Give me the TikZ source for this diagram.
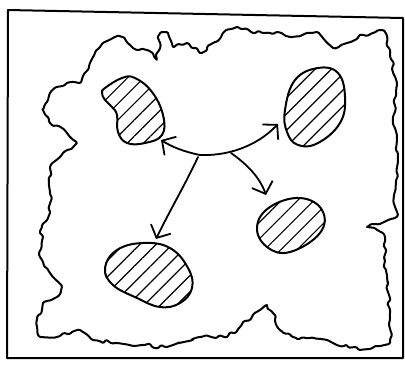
\documentclass[tikz,border=0pt]{standalone}
\usepackage{tikz}
\usetikzlibrary{arrows.meta,
                decorations.pathmorphing}
\usetikzlibrary{patterns.meta}

\begin{document}
\begin{tikzpicture}[x=1pt,y=-1pt,line join=round,line cap=round,
    pen/.style={line width=2pt},
    blob/.style={pen,pattern={Lines[angle=45,distance=11.5pt,line width=1.2pt]}},
    arr/.style={line width=1.8pt,-{Straight Barb[length=10pt,width=22pt,line width=1.8pt]}},
    fuzzy/.style={pen,decorate,decoration={random steps,segment length=4.5pt,amplitude=2.2pt},rounded corners=1.2pt}]
    \useasboundingbox (0,0) rectangle (405,368);
    \pgfmathsetseed{7}

    % frame
    \draw[pen] (8,10) -- (403,18) -- (403,358) -- (7,358) -- cycle;

    % region
    \draw[fuzzy] (43,110) -- (50,93) -- (67,83) -- (80,83) -- (90,63) -- (100,47)
        -- (113,38) -- (123,37) -- (133,48) -- (147,50) -- (157,60) -- (160,33)
        -- (167,32) -- (173,47) -- (187,43) -- (200,53) -- (213,43) -- (223,33)
        -- (237,27) -- (253,33) -- (263,33) -- (277,32) -- (290,37) -- (307,33)
        -- (317,32) -- (333,48) -- (347,43) -- (360,35) -- (373,33) -- (383,30)
        -- (390,50) -- (397,83) -- (393,117) -- (398,160) -- (394,195) -- (398,215)
        -- (367,227) -- (383,233) -- (386,270) -- (390,310) -- (390,343)
        -- (360,350) -- (327,340) -- (293,337) -- (280,330) -- (273,313)
        -- (267,305) -- (260,310) -- (240,327) -- (227,337) -- (200,337)
        -- (167,347) -- (143,345) -- (117,343) -- (93,340) -- (80,330)
        -- (57,337) -- (40,337) -- (37,327) -- (43,303) -- (57,297) -- (62,287)
        -- (50,273) -- (40,257) -- (43,237) -- (40,233) -- (50,213) -- (50,193)
        -- (50,167) -- (60,157) -- (77,143) -- (67,133) -- (50,123) -- cycle;

    % islands
    \draw[blob] plot[smooth cycle,tension=0.7] coordinates {(105,88) (122,78) (135,78)
        (152,92) (163,115) (162,135) (145,143) (127,143) (118,132) (117,115)
        (112,107) (105,100) (102,93)};
    \draw[blob] plot[smooth cycle,tension=0.7] coordinates {(285,110) (295,80) (318,68)
        (338,73) (345,97) (340,123) (318,143) (298,145) (287,132)};
    \draw[blob] plot[smooth cycle,tension=0.7] coordinates {(257,227) (270,207) (300,198)
        (322,210) (320,233) (290,252) (267,247)};
    \draw[blob] plot[smooth cycle,tension=0.7] coordinates {(105,268) (117,250) (143,243)
        (170,248) (188,268) (192,288) (180,303) (160,307) (137,298) (113,285)};

    \coordinate (hubL) at (200,155);
    \coordinate (hubR) at (231,153);
    \coordinate (hubD) at (198,157);
    \coordinate (tipA) at (161,140);
    \coordinate (tipB) at (278,124);
    \coordinate (tipC) at (266,195);
    \coordinate (tipD) at (156,239);

    % arrows
    \draw[arr] (hubL) .. controls (185,152) and (172,147) .. (tipA);
    \draw[arr] (hubL) .. controls (225,156) and (255,148) .. (tipB);
    \draw[arr] (hubR) .. controls (248,165) and (260,178) .. (tipC);
    \draw[arr] (hubD) .. controls (185,185) and (170,210) .. (tipD);
\end{tikzpicture}
\end{document}
